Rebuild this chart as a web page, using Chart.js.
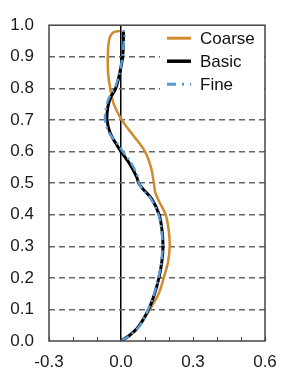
<!DOCTYPE html>
<html><head><meta charset="utf-8">
<script src="https://cdn.jsdelivr.net/npm/chart.js@4.4.1/dist/chart.umd.min.js"></script>
<style>html,body{margin:0;padding:0;background:#fff;} #wrap{width:292px;height:375px;}</style>
</head><body><div id="wrap"><canvas id="c" width="292" height="375"></canvas></div>
<script>
// ---- data (x = value, y = height) ----
const seriesNames = ['Coarse', 'Basic', 'Fine'];
const coarseY = [0, 0.015, 0.045, 0.10, 0.15, 0.20, 0.25, 0.30, 0.35, 0.40, 0.44, 0.47, 0.50, 0.55, 0.60, 0.65, 0.70, 0.75, 0.80, 0.85, 0.90, 0.94, 0.965, 0.978, 0.982];
const coarseX = [0, 0.035, 0.075, 0.12, 0.157, 0.178, 0.196, 0.203, 0.199, 0.186, 0.160, 0.143, 0.137, 0.125, 0.100, 0.052, 0.003, -0.030, -0.045, -0.054, -0.055, -0.052, -0.045, -0.030, -0.005];
const basicY = [0, 0.015, 0.045, 0.10, 0.15, 0.20, 0.25, 0.30, 0.35, 0.40, 0.45, 0.48, 0.50, 0.52, 0.56, 0.60, 0.63, 0.66, 0.70, 0.74, 0.77, 0.80, 0.85, 0.90, 0.95, 0.98];
const basicX = [0, 0.030, 0.072, 0.115, 0.140, 0.158, 0.170, 0.175, 0.171, 0.159, 0.128, 0.093, 0.074, 0.065, 0.037, 0.000, -0.025, -0.046, -0.058, -0.055, -0.044, -0.022, -0.005, 0.007, 0.010, 0.010];
const fineY = [0, 0.015, 0.045, 0.10, 0.15, 0.20, 0.25, 0.30, 0.35, 0.40, 0.45, 0.48, 0.50, 0.52, 0.56, 0.60, 0.63, 0.66, 0.70, 0.74, 0.77, 0.80, 0.85, 0.90, 0.95, 0.975, 0.985];
const fineX = [0, 0.032, 0.075, 0.113, 0.138, 0.156, 0.168, 0.173, 0.169, 0.156, 0.125, 0.090, 0.075, 0.070, 0.045, 0.008, -0.020, -0.050, -0.066, -0.062, -0.050, -0.026, -0.006, 0.006, 0.012, 0.015, 0.010];
const xTickLabels = ['-0.3', '0.0', '0.3', '0.6'];
const yTickLabels = ['0.0','0.1','0.2','0.3','0.4','0.5','0.6','0.7','0.8','0.9','1.0'];

const toPts = (xs, ys) => xs.map((x, i) => ({x: x, y: ys[i]}));
const FONT = '"Liberation Sans", Arial, sans-serif';
const colors = ['#D08B2C', '#000000', '#5B9BD5'];
const widths = [2.5, 3, 2.5];
const dashes = [[], [], [9, 4, 2, 4]];

const extras = {
  id: 'extras',
  afterDatasetsDraw(chart) {
    const ctx = chart.ctx, a = chart.chartArea, xs = chart.scales.x;
    ctx.save();
    // minor ticks on bottom axis, pointing inward
    ctx.strokeStyle = '#555'; ctx.lineWidth = 1.2; ctx.setLineDash([]);
    xs.ticks.forEach(t => {
      const px = Math.round(xs.getPixelForValue(t.value)) + 0.5;
      ctx.beginPath(); ctx.moveTo(px, a.bottom); ctx.lineTo(px, a.bottom - 4); ctx.stroke();
    });
    // legend (inside plot, top-right, white background)
    const lx = a.right - 105, ly = a.top + 1;
    ctx.fillStyle = '#fff';
    ctx.fillRect(lx, ly, a.right - lx - 1, 70);
    seriesNames.forEach((name, i) => {
      const y = a.top + 13 + i * 23;
      ctx.strokeStyle = colors[i]; ctx.lineWidth = widths[i] + 0.5; ctx.setLineDash(i === 2 ? [9, 6, 2, 6] : []);
      ctx.beginPath(); ctx.moveTo(a.right - 98, y); ctx.lineTo(a.right - 74, y); ctx.stroke();
      ctx.setLineDash([]);
      ctx.fillStyle = '#111'; ctx.font = '17px ' + FONT; ctx.textBaseline = 'middle'; ctx.textAlign = 'left';
      ctx.fillText(name, a.right - 65, y + 1);
    });
    // frame
    ctx.strokeStyle = '#444'; ctx.lineWidth = 1.5;
    ctx.strokeRect(a.left, a.top, a.right - a.left, a.bottom - a.top);
    ctx.restore();
  }
};

new Chart(document.getElementById('c'), {
  type: 'scatter',
  data: {
    datasets: [
      {label: seriesNames[0], data: toPts(coarseX, coarseY), order: 2},
      {label: seriesNames[1], data: toPts(basicX, basicY), order: 1},
      {label: seriesNames[2], data: toPts(fineX, fineY), order: 0}
    ].map((d, i) => Object.assign(d, {
      showLine: true, borderColor: colors[i], borderWidth: widths[i], borderDash: dashes[i],
      pointRadius: 0, tension: 0.35, fill: false
    }))
  },
  options: {
    responsive: false, animation: false, devicePixelRatio: 1,
    layout: {padding: {top: 11, right: 27, left: 0, bottom: 0}},
    plugins: {legend: {display: false}, tooltip: {enabled: false}},
    scales: {
      x: {
        type: 'linear', min: -0.3, max: 0.6,
        afterFit: s => { s.height = 34; },
        ticks: {
          stepSize: 0.1, autoSkip: false, maxRotation: 0, padding: 11,
          color: '#1a1a1a', font: {size: 17, family: FONT},
          callback: v => { const s = (Math.round(v * 10) / 10).toFixed(1); return xTickLabels.includes(s) ? s : ''; }
        },
        grid: {
          drawTicks: false, lineWidth: 1.5,
          color: c => (c.tick && Math.abs(c.tick.value) < 1e-9) ? '#000' : 'rgba(0,0,0,0)'
        },
        border: {display: false}
      },
      y: {
        type: 'linear', min: 0, max: 1,
        afterFit: s => { s.width = 49; },
        ticks: {
          stepSize: 0.1, autoSkip: false, padding: 15,
          color: '#1a1a1a', font: {size: 17, family: FONT},
          callback: (v, i) => yTickLabels[Math.round(v * 10)]
        },
        grid: {
          drawTicks: false, lineWidth: 1.5,
          color: c => { const v = c.tick ? c.tick.value : 0; return (v < 0.01 || v > 0.99) ? 'rgba(0,0,0,0)' : '#666'; }
        },
        border: {display: false, dash: [6, 4]}
      }
    }
  },
  plugins: [extras]
});
</script>
</body></html>
